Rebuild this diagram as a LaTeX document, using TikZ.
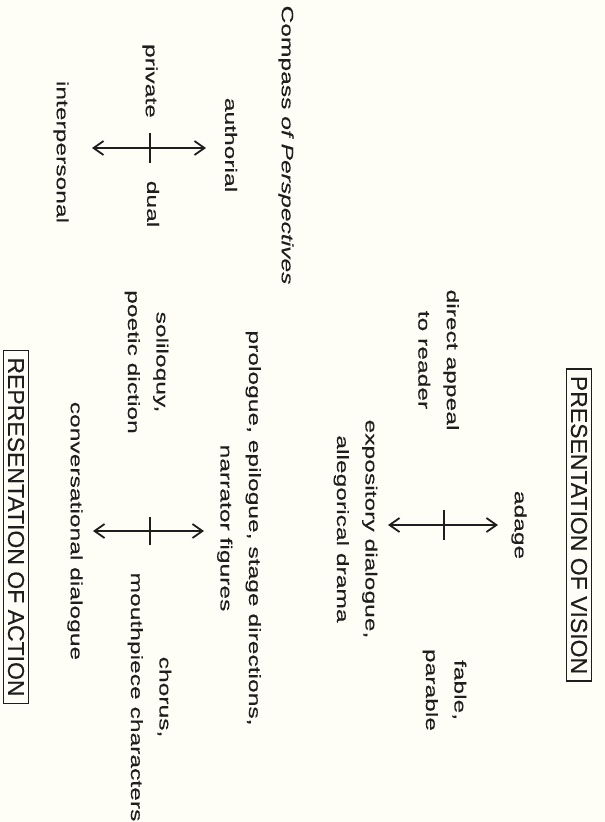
\documentclass[tikz,border=0pt]{standalone}
\usepackage{fontspec}
\setmainfont{Liberation Sans}[FakeStretch=1.50, FakeBold=0.3]
\newfontfamily\boxfont{Liberation Sans}[FakeBold=0.3]
\usetikzlibrary{arrows.meta}
\definecolor{paper}{RGB}{255,254,246}
\definecolor{ink}{RGB}{30,30,30}
\tikzset{
  lbl/.style={rotate=-90, align=center, text=ink, inner sep=0pt,
    font=\fontsize{16.4}{28.5}\selectfont},
  boxlbl/.style={rotate=-90, draw=ink, line width=1.4pt, text=ink,
    inner xsep=7pt, inner ysep=4.5pt, font=\boxfont\fontsize{23}{26}\selectfont},
  axis/.style={draw=ink, line width=2.2pt,
    {Straight Barb[length=10pt,width=14pt,line width=1.8pt]}-{Straight Barb[length=10pt,width=14pt,line width=1.8pt]}},
  tick/.style={draw=ink, line width=2.4pt}
}
\begin{document}
\begin{tikzpicture}[x=1pt,y=-1pt]
\fill[paper] (0,0) rectangle (605,822);
\useasboundingbox (0,0) rectangle (605,822);

% Compass of Perspectives
\node[lbl] (title) at (286,145) {Compass \textit{of Perspectives}};
\node[lbl] (authorial) at (231,145) {authorial};
\node[lbl] (private) at (150,81) {private};
\node[lbl] (dual) at (153,204) {dual};
\node[lbl] (interpersonal) at (61,152) {interpersonal};
\coordinate (a1L) at (92,148);
\coordinate (a1R) at (206,148);
\coordinate (a1T) at (150,133);
\coordinate (a1B) at (150,163);
\draw[axis] (a1L) -- (a1R);
\draw[tick] (a1T) -- (a1B);

% Presentation of vision
\node[boxlbl] (vision) at (579,525) {PRESENTATION OF VISION};
\node[lbl] (adage) at (519,525) {adage};
\node[lbl] (direct) at (438.5,360) {direct appeal\\to reader};
\node[lbl] (expository) at (355.5,529) {expository dialogue,\\allegorical drama};
\node[lbl] (fable) at (444.5,690) {fable,\\parable};
\coordinate (a2L) at (388,525);
\coordinate (a2R) at (498,525);
\coordinate (a2T) at (444,510);
\coordinate (a2B) at (444,540);
\draw[axis] (a2L) -- (a2R);
\draw[tick] (a2T) -- (a2B);

% Representation of action
\node[lbl] (prologue) at (239,528) {prologue, epilogue, stage directions,\\narrator figures};
\node[lbl] (soliloquy) at (146.5,362) {soliloquy,\\poetic diction};
\node[lbl] (chorus) at (149.5,697) {chorus,\\mouthpiece characters};
\node[lbl] (conversational) at (75,531) {conversational dialogue};
\node[boxlbl] (action) at (16,527) {REPRESENTATION OF ACTION};
\coordinate (a3L) at (93,531);
\coordinate (a3R) at (204,531);
\coordinate (a3T) at (150,517);
\coordinate (a3B) at (150,545);
\draw[axis] (a3L) -- (a3R);
\draw[tick] (a3T) -- (a3B);
\end{tikzpicture}
\end{document}
